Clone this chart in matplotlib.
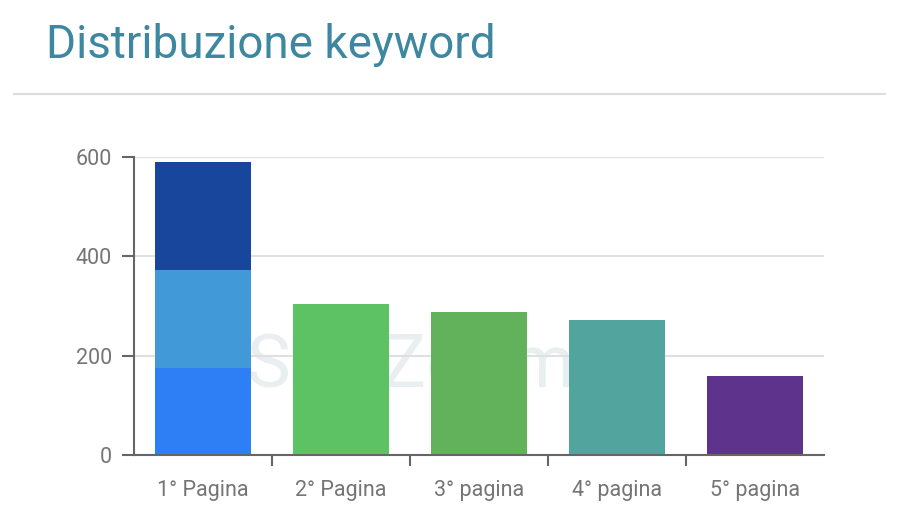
import matplotlib.pyplot as plt
import numpy as np

plt.rcParams['font.family'] = ['Roboto', 'DejaVu Sans']

# dati
categories = ["1° Pagina", "2° Pagina", "3° pagina", "4° pagina", "5° pagina"]
first_page_parts = [175, 197, 218]          # pila della prima pagina (dal basso)
first_page_colors = ['#2e7ff6', '#4299d8', '#18469c']
other_pages = [304, 288, 272, 159]
other_colors = ['#5dc264', '#62b15b', '#52a59e', '#5e338c']
y_ticks = [0, 200, 400, 600]

fig = plt.figure(figsize=(9.06, 5.30), dpi=100)
ax = fig.add_axes([134/906, 1 - 455/530, (824 - 134)/906, (455 - 157)/530])

bar_w = 0.7
x = np.arange(len(categories))

# barra impilata
bottom = 0
for val, col in zip(first_page_parts, first_page_colors):
    ax.bar(x[0], val, bottom=bottom, width=bar_w, color=col, zorder=3)
    bottom += val

# altre barre
ax.bar(x[1:], other_pages, width=bar_w, color=other_colors, zorder=3)

# filigrana
ax.text(0.40, 0.295, "SEOZoom", transform=ax.transAxes, ha='center',
        va='center', fontsize=53, color='#e9eef1', zorder=1)

ax.set_xlim(-0.5, len(categories) - 0.5)
ax.set_ylim(0, 600)
ax.set_yticks(y_ticks)
ax.set_xticks(x)
ax.set_xticklabels(categories)
ax.set_xticks(x[:-1] + 0.5, minor=True)

ax.grid(axis='y', color='#e0e0e0', linewidth=1.5, zorder=0)
for s in ['top', 'right']:
    ax.spines[s].set_visible(False)
for s in ['left', 'bottom']:
    ax.spines[s].set_color('#666666')
    ax.spines[s].set_linewidth(1.5)
    ax.spines[s].set_zorder(4)

ax.tick_params(axis='y', length=9, width=1.5, color='#666666', pad=7,
               labelsize=15.5, labelcolor='#757575')
ax.tick_params(axis='x', which='major', length=0, pad=18,
               labelsize=15.5, labelcolor='#757575')
ax.tick_params(axis='x', which='minor', length=8, width=1.5, color='#666666')

# titolo e separatore
fig.text(46/906, 1 - 45/530, "Distribuzione keyword", fontsize=33,
         color='#3e87a0', va='center', ha='left')
fig.add_artist(plt.Line2D([14/906, 885/906], [1 - 94/530, 1 - 94/530],
                          color='#dddddd', linewidth=1.5))

fig.savefig('out.png', dpi=100)
